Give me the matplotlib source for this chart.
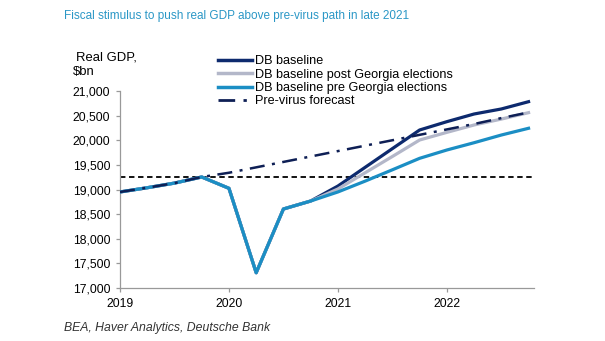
import matplotlib
matplotlib.use("Agg")
import matplotlib.pyplot as plt
from matplotlib.lines import Line2D

plt.rcParams['font.family'] = ['Liberation Sans', 'DejaVu Sans']

# quarterly positions 2019Q1 .. 2022Q4
quarters = [2019 + i / 4 for i in range(16)]

history = [18950, 19036, 19130, 19254, 19024, 17310, 18604, 18766]
db_baseline = history + [19070, 19450, 19830, 20208, 20377, 20533, 20635, 20783]
db_post_georgia = history + [19010, 19340, 19670, 20005, 20160, 20310, 20430, 20560]
db_pre_georgia = history + [18950, 19170, 19400, 19633, 19802, 19950, 20106, 20243]
pre_virus = [18950, 19036, 19130, 19254, 19340, 19450, 19560, 19670,
             19780, 19890, 20000, 20110, 20220, 20330, 20450, 20565]
pre_virus_peak = 19254

xticks = [2019, 2020, 2021, 2022]
yticks = [17000, 17500, 18000, 18500, 19000, 19500, 20000, 20500, 21000]

c_navy = '#0d2a6e'
c_gray = '#b3b7c9'
c_blue = '#1b8ec4'
c_fc = '#0e1f55'

L, R, B, T = 120, 534, 288, 91
fig = plt.figure(figsize=(6.05, 3.41), dpi=100)
ax = fig.add_axes([L/605, 1-B/341, (R-L)/605, (B-T)/341])

ax.axhline(pre_virus_peak, color='black', lw=1.3, ls=(0, (3, 2)), zorder=2)
ax.plot(quarters, db_baseline, color=c_navy, lw=2.3, zorder=3)
ax.plot(quarters, db_post_georgia, color=c_gray, lw=2.3, zorder=4)
ax.plot(quarters, db_pre_georgia, color=c_blue, lw=2.3, zorder=5)
ax.plot(quarters, pre_virus, color=c_fc, lw=1.8, ls=(0, (6, 3, 1.2, 3)), zorder=6)

ax.set_xlim(2019, 2022.8)
ax.set_ylim(17000, 21000)
ax.set_xticks(xticks)
ax.set_xticklabels([str(x) for x in xticks])
ax.set_yticks(yticks)
ax.set_yticklabels([f'{v:,}' for v in yticks])
for s in ['top', 'right']:
    ax.spines[s].set_visible(False)
for s in ['left', 'bottom']:
    ax.spines[s].set_color('#999999')
    ax.spines[s].set_linewidth(0.9)
ax.tick_params(axis='both', colors='#999999', labelcolor='black', labelsize=8.7,
               length=3, width=0.9, pad=4)

handles = [
    Line2D([], [], color=c_navy, lw=2.5),
    Line2D([], [], color=c_gray, lw=2.5),
    Line2D([], [], color=c_blue, lw=2.5),
    Line2D([], [], color=c_fc, lw=2.0, ls=(0, (6, 3, 1.2, 3))),
]
labels = ['DB baseline', 'DB baseline post Georgia elections',
          'DB baseline pre Georgia elections', 'Pre-virus forecast']
fig.legend(handles, labels, loc='upper left', bbox_to_anchor=(218/605, 1-55.5/341),
           frameon=False, fontsize=9.1, handlelength=2.7, handletextpad=0.25,
           labelspacing=0.1, borderaxespad=0, borderpad=0)

fig.text(64/605, 1-16/341, 'Fiscal stimulus to push real GDP above pre-virus path in late 2021',
         color='#2a97c6', fontsize=8.45, va='center', ha='left')
fig.text(76/605, 1-57/341, 'Real GDP,', fontsize=9.4, va='center', ha='left')
fig.text(73/605, 1-72/341, '$bn', fontsize=9.4, va='center', ha='left')
fig.text(64/605, 1-328/341, 'BEA, Haver Analytics, Deutsche Bank', fontsize=8.8,
         style='italic', color='#333333', va='center', ha='left')

fig.savefig('out.png', dpi=100)
